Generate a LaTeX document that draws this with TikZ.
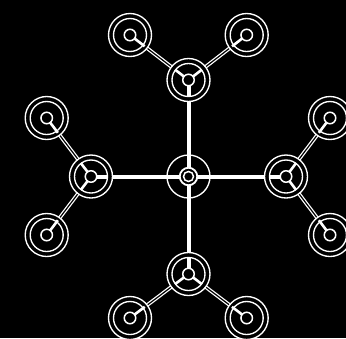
\documentclass[tikz,border=0pt]{standalone}
\usetikzlibrary{calc}
\tikzset{
  ring/.style={draw=white,line width=1.35pt,fill=black,circle,inner sep=0pt,minimum size=#1},
  core/.style={draw=white,line width=1.5pt,fill=black,circle,inner sep=0pt,minimum size=11.5pt},
  twin/.style={draw=white,double=black,double distance=1.2pt,line width=1.25pt},
  trunk/.style={draw=white,line width=4pt},
  spoke/.style={draw=white,line width=2.6pt},
  pad/.style={draw=white,line width=1.35pt,fill=none,circle,inner sep=0pt,minimum size=#1}
}
\newcommand{\RA}{43pt}\newcommand{\RB}{33pt}
\begin{document}
\begin{tikzpicture}[x=1pt,y=-1pt]
\path[fill=black,use as bounding box] (0,0) rectangle (346,338);
\coordinate (c) at (188.5,176.5);
\coordinate (t) at (188.5,80);
\coordinate (b) at (188.5,274);
\coordinate (l) at (91,176.5);
\coordinate (r) at (286,176.5);
\coordinate (tl) at (130,35);
\coordinate (tr) at (246.7,35);
\coordinate (bl) at (130,318);
\coordinate (br) at (246.7,318);
\coordinate (lt) at (46.7,118);
\coordinate (lb) at (46.7,235);
\coordinate (rt) at (330,118);
\coordinate (rb) at (330,235);
\foreach \h/\a/\b in {t/tl/tr,b/bl/br,l/lt/lb,r/rt/rb}{
  \draw[twin] (\h) -- (\a);
  \draw[twin] (\h) -- (\b);
}
\foreach \h in {t,b,l,r}{\draw[trunk] (c) -- (\h);}
\foreach \n in {t,b,l,r,tl,tr,bl,br,lt,lb,rt,rb}{
  \node[ring=\RA] (o\n) at (\n) {};
}
\node[pad=\RA] (oc) at (c) {};
\foreach \h/\a/\b in {t/tl/tr,b/bl/br,l/lt/lb,r/rt/rb}{
  \draw[spoke] (\h) -- ($(\h)!16.5pt!(\a)$);
  \draw[spoke] (\h) -- ($(\h)!16.5pt!(\b)$);
  \draw[spoke] (\a) -- ($(\a)!18.5pt!(\h)$);
  \draw[spoke] (\b) -- ($(\b)!18.5pt!(\h)$);
  \draw[trunk] (\h) -- ($(\h)!16.5pt!(c)$);
}
\node[circle,fill=black,draw=white,line width=1.8pt,minimum size=17.5pt,inner sep=0pt] (k) at (c) {};
\node[core,minimum size=10pt] (kc) at (c) {};
\foreach \n in {t,b,l,r,tl,tr,bl,br,lt,lb,rt,rb}{
  \node[pad=\RB] (i\n) at (\n) {};
  \node[core] (s\n) at (\n) {};
}
\end{tikzpicture}
\end{document}
